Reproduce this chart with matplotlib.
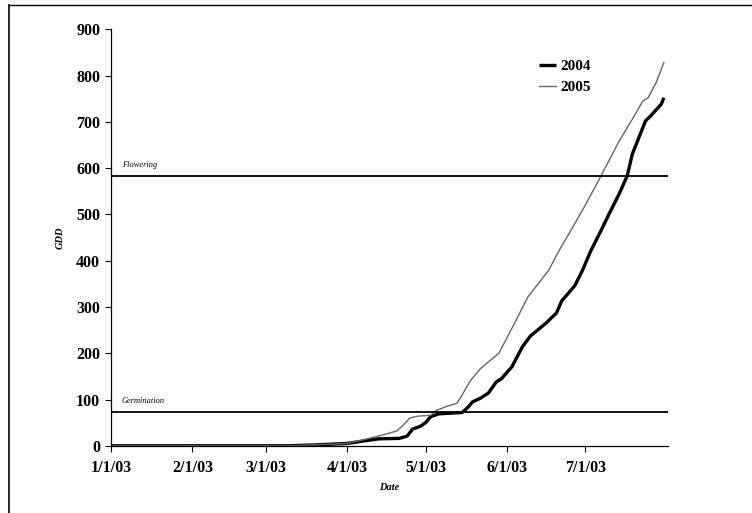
import matplotlib
matplotlib.use("Agg")
import matplotlib.pyplot as plt
from matplotlib.lines import Line2D
import pandas as pd

# Cumulative growing degree days (GDD), plotted on a common calendar year
dates_2004 = ["2003-01-01", "2003-03-10", "2003-03-20", "2003-04-01", "2003-04-08",
              "2003-04-13", "2003-04-21", "2003-04-24", "2003-04-26", "2003-04-29",
              "2003-05-01", "2003-05-03", "2003-05-06", "2003-05-15", "2003-05-17",
              "2003-05-19", "2003-05-22", "2003-05-25", "2003-05-28", "2003-05-30",
              "2003-06-03", "2003-06-07", "2003-06-10", "2003-06-16", "2003-06-20",
              "2003-06-22", "2003-06-27", "2003-06-30", "2003-07-03", "2003-07-07",
              "2003-07-10", "2003-07-14", "2003-07-17", "2003-07-19", "2003-07-24",
              "2003-07-26", "2003-07-30", "2003-07-31"]
gdd_2004 = [0, 0, 2, 5, 11,
            15, 16, 21, 36, 42,
            50, 63, 69, 72, 82,
            95, 103, 114, 138, 145,
            171, 214, 237, 265, 287,
            313, 346, 380, 420, 465,
            500, 545, 583, 631, 702,
            713, 738, 752]

dates_2005 = ["2003-01-01", "2003-03-10", "2003-04-01", "2003-04-08", "2003-04-15",
              "2003-04-20", "2003-04-22", "2003-04-25", "2003-04-28", "2003-05-03",
              "2003-05-05", "2003-05-09", "2003-05-13", "2003-05-15", "2003-05-18",
              "2003-05-22", "2003-05-29", "2003-06-04", "2003-06-09", "2003-06-17",
              "2003-06-21", "2003-06-26", "2003-07-01", "2003-07-07", "2003-07-14",
              "2003-07-19", "2003-07-23", "2003-07-25", "2003-07-28", "2003-07-31"]
gdd_2005 = [0, 0, 5, 14, 24,
            32, 42, 60, 64, 66,
            76, 85, 92, 110, 140,
            167, 200, 265, 321, 379,
            422, 470, 520, 583, 659,
            706, 745, 752, 784, 828]

germination_gdd = 74
flowering_gdd = 583

tick_dates = ["2003-01-01", "2003-02-01", "2003-03-01", "2003-04-01",
              "2003-05-01", "2003-06-01", "2003-07-01"]
tick_labels = ["1/1/03", "2/1/03", "3/1/03", "4/1/03", "5/1/03", "6/1/03", "7/1/03"]
y_ticks = [0, 100, 200, 300, 400, 500, 600, 700, 800, 900]

serif = "Liberation Serif"

fig = plt.figure(figsize=(7.52, 5.13), dpi=100)
ax = fig.add_axes([0.148, 0.131, 0.740, 0.812])

x04 = pd.to_datetime(dates_2004)
x05 = pd.to_datetime(dates_2005)
ax.plot(x04, gdd_2004, color="black", lw=2.4, label="2004", solid_capstyle="butt")
ax.plot(x05, gdd_2005, color="#666666", lw=1.0, label="2005")

ax.axhline(flowering_gdd, color="black", lw=1.3)
ax.axhline(germination_gdd, color="black", lw=1.3)

x_start = pd.Timestamp("2003-01-01")
x_end = pd.Timestamp("2003-08-01 12:00")
ax.set_xlim(x_start, x_end)
ax.set_ylim(0, 900)

ax.text(pd.Timestamp("2003-01-05"), flowering_gdd + 14, "Flowering",
        family=serif, style="italic", fontsize=6, va="bottom")
ax.text(pd.Timestamp("2003-01-05"), germination_gdd + 14, "Germination",
        family=serif, style="italic", fontsize=6, va="bottom")

ax.set_xticks(pd.to_datetime(tick_dates))
ax.set_xticklabels(tick_labels)
ax.set_yticks(y_ticks)
ax.set_yticklabels([str(v) for v in y_ticks])
for lab in ax.get_xticklabels() + ax.get_yticklabels():
    lab.set_family(serif)
    lab.set_fontweight("bold")
    lab.set_fontsize(11.5)
ax.tick_params(axis="both", direction="out", length=4, width=0.8, color="black")
ax.tick_params(axis="x", pad=6)
ax.tick_params(axis="y", pad=4)

for side in ("top", "right"):
    ax.spines[side].set_visible(False)
for side in ("left", "bottom"):
    ax.spines[side].set_linewidth(0.9)

ax.set_xlabel("Date", family=serif, style="italic", fontweight="bold", fontsize=7.5, labelpad=5)
ax.set_ylabel("GDD", family=serif, style="italic", fontweight="bold", fontsize=7.5, labelpad=8)

leg = ax.legend(loc="upper left", bbox_to_anchor=(0.744, 0.961), frameon=False,
                handlelength=1.1, handletextpad=0.3, labelspacing=0.48,
                prop={"family": serif, "weight": "bold", "size": 11})

# chart-area border (top and left edges)
fig.add_artist(Line2D([9 / 752, 9 / 752], [0, 1 - 5 / 513], transform=fig.transFigure,
                      color="black", lw=1.2))
fig.add_artist(Line2D([9 / 752, 1], [1 - 5 / 513, 1 - 5 / 513], transform=fig.transFigure,
                      color="black", lw=1.0))

fig.savefig("out.png", dpi=100)
